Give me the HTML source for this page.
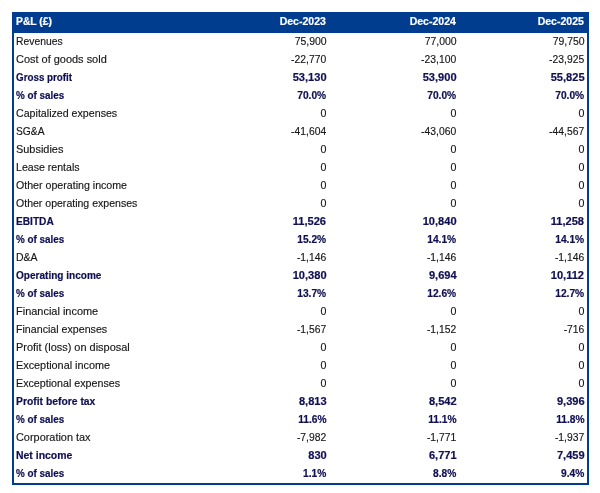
<!DOCTYPE html>
<html><head><meta charset="utf-8"><title>P&amp;L</title>
<style>
html,body{margin:0;padding:0;background:#fff;}
body{width:600px;height:493px;overflow:hidden;position:relative;font-family:"Liberation Sans",Arial,sans-serif;font-size:10.67px;color:#161616;-webkit-text-stroke:0.15px #161616;}
.tbl{position:absolute;left:12px;top:12px;width:577px;height:473px;box-sizing:border-box;border-left:2px solid #003d8f;border-right:2px solid #003d8f;border-bottom:2px solid #003d8f;}
.hdbg{position:absolute;left:-2px;top:0;width:577px;height:21px;background:#003d8f;}
.txt{position:absolute;left:0;top:0;width:573px;height:471px;}
.hd{position:absolute;left:-2px;top:0;width:577px;height:21px;color:#fff;font-weight:bold;line-height:19px;-webkit-text-stroke:0.2px #fff;}
.r{position:absolute;left:0;width:573px;height:18px;line-height:18px;}
.b{font-weight:bold;color:#101052;-webkit-text-stroke:0.2px #101052;}
.l{position:absolute;left:1.7px;top:0;white-space:nowrap;transform-origin:0 50%;}
.c{position:absolute;top:0;text-align:right;white-space:nowrap;transform-origin:100% 50%;}
.c1{right:260.7px}.c2{right:130.7px}.c3{right:2.6px}
.hd .l{left:4px}.hd .c1{right:263.2px}.hd .c2{right:133.2px}.hd .c3{right:5.1px}
</style></head><body>
<div class="tbl">
<div class="hdbg"></div>
<div class="txt">
<div class="hd"><span class="l" style="transform:scaleX(0.970)">P&amp;L (£)</span><span class="c c1" style="transform:scaleX(0.985)">Dec-2023</span><span class="c c2" style="transform:scaleX(0.985)">Dec-2024</span><span class="c c3" style="transform:scaleX(0.985)">Dec-2025</span></div>
<div class="r" style="top:20px"><span class="l" style="transform:scaleX(0.970)">Revenues</span><span class="c c1" style="transform:scaleX(0.980)">75,900</span><span class="c c2" style="transform:scaleX(0.980)">77,000</span><span class="c c3" style="transform:scaleX(0.980)">79,750</span></div>
<div class="r" style="top:38px"><span class="l" style="transform:scaleX(1.028)">Cost of goods sold</span><span class="c c1" style="transform:scaleX(0.970)">-22,770</span><span class="c c2" style="transform:scaleX(0.970)">-23,100</span><span class="c c3" style="transform:scaleX(0.970)">-23,925</span></div>
<div class="r b" style="top:56px"><span class="l" style="transform:scaleX(0.920)">Gross profit</span><span class="c c1" style="transform:scaleX(1.040)">53,130</span><span class="c c2" style="transform:scaleX(1.040)">53,900</span><span class="c c3" style="transform:scaleX(1.040)">55,825</span></div>
<div class="r b" style="top:74px"><span class="l" style="transform:scaleX(0.926)">% of sales</span><span class="c c1" style="transform:scaleX(0.960)">70.0%</span><span class="c c2" style="transform:scaleX(0.960)">70.0%</span><span class="c c3" style="transform:scaleX(0.960)">70.0%</span></div>
<div class="r" style="top:92px"><span class="l" style="transform:scaleX(0.999)">Capitalized expenses</span><span class="c c1">0</span><span class="c c2">0</span><span class="c c3">0</span></div>
<div class="r" style="top:110px"><span class="l" style="transform:scaleX(0.961)">SG&amp;A</span><span class="c c1" style="transform:scaleX(0.970)">-41,604</span><span class="c c2" style="transform:scaleX(0.970)">-43,060</span><span class="c c3" style="transform:scaleX(0.970)">-44,567</span></div>
<div class="r" style="top:128px"><span class="l" style="transform:scaleX(1.026)">Subsidies</span><span class="c c1">0</span><span class="c c2">0</span><span class="c c3">0</span></div>
<div class="r" style="top:146px"><span class="l" style="transform:scaleX(0.994)">Lease rentals</span><span class="c c1">0</span><span class="c c2">0</span><span class="c c3">0</span></div>
<div class="r" style="top:164px"><span class="l" style="transform:scaleX(0.997)">Other operating income</span><span class="c c1">0</span><span class="c c2">0</span><span class="c c3">0</span></div>
<div class="r" style="top:182px"><span class="l" style="transform:scaleX(0.989)">Other operating expenses</span><span class="c c1">0</span><span class="c c2">0</span><span class="c c3">0</span></div>
<div class="r b" style="top:200px"><span class="l" style="transform:scaleX(0.951)">EBITDA</span><span class="c c1" style="transform:scaleX(1.040)">11,526</span><span class="c c2" style="transform:scaleX(1.040)">10,840</span><span class="c c3" style="transform:scaleX(1.040)">11,258</span></div>
<div class="r b" style="top:218px"><span class="l" style="transform:scaleX(0.926)">% of sales</span><span class="c c1" style="transform:scaleX(0.960)">15.2%</span><span class="c c2" style="transform:scaleX(0.960)">14.1%</span><span class="c c3" style="transform:scaleX(0.960)">14.1%</span></div>
<div class="r" style="top:236px"><span class="l" style="transform:scaleX(0.983)">D&amp;A</span><span class="c c1" style="transform:scaleX(0.970)">-1,146</span><span class="c c2" style="transform:scaleX(0.970)">-1,146</span><span class="c c3" style="transform:scaleX(0.970)">-1,146</span></div>
<div class="r b" style="top:254px"><span class="l" style="transform:scaleX(0.943)">Operating income</span><span class="c c1" style="transform:scaleX(1.040)">10,380</span><span class="c c2" style="transform:scaleX(1.040)">9,694</span><span class="c c3" style="transform:scaleX(1.040)">10,112</span></div>
<div class="r b" style="top:272px"><span class="l" style="transform:scaleX(0.926)">% of sales</span><span class="c c1" style="transform:scaleX(0.960)">13.7%</span><span class="c c2" style="transform:scaleX(0.960)">12.6%</span><span class="c c3" style="transform:scaleX(0.960)">12.7%</span></div>
<div class="r" style="top:290px"><span class="l" style="transform:scaleX(1.028)">Financial income</span><span class="c c1">0</span><span class="c c2">0</span><span class="c c3">0</span></div>
<div class="r" style="top:308px"><span class="l" style="transform:scaleX(0.999)">Financial expenses</span><span class="c c1" style="transform:scaleX(0.970)">-1,567</span><span class="c c2" style="transform:scaleX(0.970)">-1,152</span><span class="c c3" style="transform:scaleX(0.970)">-716</span></div>
<div class="r" style="top:326px"><span class="l" style="transform:scaleX(1.027)">Profit (loss) on disposal</span><span class="c c1">0</span><span class="c c2">0</span><span class="c c3">0</span></div>
<div class="r" style="top:344px"><span class="l" style="transform:scaleX(1.018)">Exceptional income</span><span class="c c1">0</span><span class="c c2">0</span><span class="c c3">0</span></div>
<div class="r" style="top:362px"><span class="l" style="transform:scaleX(1.004)">Exceptional expenses</span><span class="c c1">0</span><span class="c c2">0</span><span class="c c3">0</span></div>
<div class="r b" style="top:380px"><span class="l" style="transform:scaleX(0.971)">Profit before tax</span><span class="c c1" style="transform:scaleX(1.040)">8,813</span><span class="c c2" style="transform:scaleX(1.040)">8,542</span><span class="c c3" style="transform:scaleX(1.040)">9,396</span></div>
<div class="r b" style="top:398px"><span class="l" style="transform:scaleX(0.926)">% of sales</span><span class="c c1" style="transform:scaleX(0.960)">11.6%</span><span class="c c2" style="transform:scaleX(0.960)">11.1%</span><span class="c c3" style="transform:scaleX(0.960)">11.8%</span></div>
<div class="r" style="top:416px"><span class="l" style="transform:scaleX(1.023)">Corporation tax</span><span class="c c1" style="transform:scaleX(0.970)">-7,982</span><span class="c c2" style="transform:scaleX(0.970)">-1,771</span><span class="c c3" style="transform:scaleX(0.970)">-1,937</span></div>
<div class="r b" style="top:434px"><span class="l" style="transform:scaleX(0.980)">Net income</span><span class="c c1" style="transform:scaleX(1.040)">830</span><span class="c c2" style="transform:scaleX(1.040)">6,771</span><span class="c c3" style="transform:scaleX(1.040)">7,459</span></div>
<div class="r b" style="top:452px"><span class="l" style="transform:scaleX(0.926)">% of sales</span><span class="c c1" style="transform:scaleX(0.960)">1.1%</span><span class="c c2" style="transform:scaleX(0.960)">8.8%</span><span class="c c3" style="transform:scaleX(0.960)">9.4%</span></div>
</div>
</div>
</body></html>
